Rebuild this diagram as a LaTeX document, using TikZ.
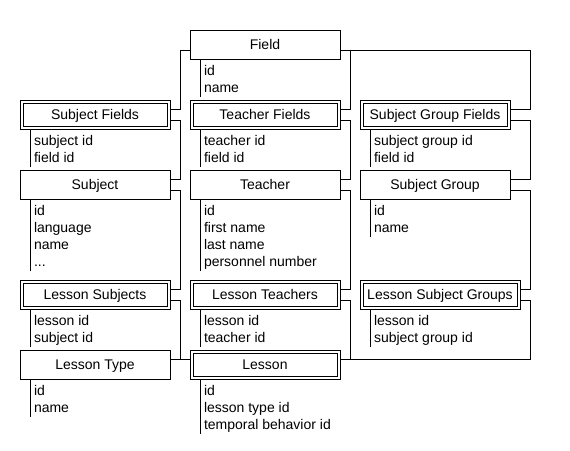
\documentclass[tikz,border=0pt]{standalone}
\usepackage{fontspec}
\setmainfont{Liberation Sans}
\newcommand\fsz{\fontsize{14pt}{17pt}\selectfont}
\newcommand\attrstrut{\rule[-4pt]{0pt}{17pt}}
\newcommand\conn[3]{\draw (#1) -- (#1 -| #3) -- (#2 -| #3) -- (#2);}
\begin{document}
\begin{tikzpicture}[x=1pt,y=-1pt,line width=0.9pt,
  ent/.style={draw, minimum width=150pt, minimum height=29.5pt, inner sep=0pt,
    outer sep=0pt, text height=10pt, text depth=0pt, font=\fsz},
  rel/.style={ent, path picture={\draw
    ([shift={(3pt,3pt)}]path picture bounding box.south west) rectangle
    ([shift={(-3pt,-3pt)}]path picture bounding box.north east);}},
  attr/.style={anchor=north west, inner xsep=4pt, inner ysep=3pt, align=left,
    font=\fsz, outer sep=0pt}]
\useasboundingbox (0,0) rectangle (570,450);
% entities and relations
\node[ent] (field) at (265,44.75) {Field};
\node[rel] (sf)    at (95,114.75)  {Subject Fields};
\node[rel] (tf)    at (265,114.75) {Teacher Fields};
\node[rel] (sgf)   at (435,114.75) {Subject Group Fields};
\node[ent] (subj)  at (95,184.75)  {Subject};
\node[ent] (teach) at (265,184.75) {Teacher};
\node[ent] (sg)    at (435,184.75) {Subject Group};
\node[rel] (ls)    at (95,294.75)  {Lesson Subjects};
\node[rel] (lt)    at (265,294.75) {Lesson Teachers};
\node[rel, minimum width=160pt] (lsg) at (440,294.75) {Lesson Subject Groups};
\node[ent] (ltype) at (95,364.75)  {Lesson Type};
\node[rel] (lesson) at (265,364.75) {Lesson};
% attributes
\node[attr] (fa)     at ([xshift=10pt]field.south west) {id\attrstrut\\name\attrstrut};
\node[attr] (sfa)    at ([xshift=10pt]sf.south west) {subject id\attrstrut\\field id\attrstrut};
\node[attr] (tfa)    at ([xshift=10pt]tf.south west) {teacher id\attrstrut\\field id\attrstrut};
\node[attr] (sgfa)   at ([xshift=10pt]sgf.south west) {subject group id\attrstrut\\field id\attrstrut};
\node[attr] (subja)  at ([xshift=10pt]subj.south west) {id\attrstrut\\language\attrstrut\\name\attrstrut\\...\attrstrut};
\node[attr] (teacha) at ([xshift=10pt]teach.south west) {id\attrstrut\\first name\attrstrut\\last name\attrstrut\\personnel number\attrstrut};
\node[attr] (sga)    at ([xshift=10pt]sg.south west) {id\attrstrut\\name\attrstrut};
\node[attr] (lsa)    at ([xshift=10pt]ls.south west) {lesson id\attrstrut\\subject id\attrstrut};
\node[attr] (lta)    at ([xshift=10pt]lt.south west) {lesson id\attrstrut\\teacher id\attrstrut};
\node[attr] (lsga)   at ([xshift=10pt]lsg.south west) {lesson id\attrstrut\\subject group id\attrstrut};
\node[attr] (ltypea) at ([xshift=10pt]ltype.south west) {id\attrstrut\\name\attrstrut};
\node[attr] (lessona) at ([xshift=10pt]lesson.south west) {id\attrstrut\\lesson type id\attrstrut\\temporal behavior id\attrstrut};
\foreach \a in {fa,sfa,tfa,sgfa,subja,teacha,sga,lsa,lta,lsga,ltypea,lessona}
  \draw (\a.north west) -- ([yshift=3pt]\a.south west);
% channels
\coordinate (chL) at (180,0);
\coordinate (chM) at (350,0);
\coordinate (chR) at (530.5,0);
% attachment points
\coordinate (field-wl) at ([yshift=-5.5pt]field.west);
\coordinate (field-el) at ([yshift=-5.5pt]field.east);
\foreach \n in {sf,tf,sgf,subj,teach,sg,ls,lt,lsg}{
  \coordinate (\n-eu) at ([yshift=5pt]\n.east);
  \coordinate (\n-el) at ([yshift=-5.5pt]\n.east);
}
\coordinate (ltype-eu) at ([yshift=5pt]ltype.east);
\coordinate (lesson-wu) at ([yshift=5pt]lesson.west);
\coordinate (lesson-eu) at ([yshift=5pt]lesson.east);
% connectors
\conn{field-wl}{sf-eu}{chL}
\conn{sf-el}{subj-eu}{chL}
\conn{subj-el}{ls-eu}{chL}
\conn{ls-el}{lesson-wu}{chL}
\draw (ltype-eu) -- (lesson-wu);
\conn{field-el}{tf-eu}{chM}
\conn{tf-el}{teach-eu}{chM}
\conn{teach-el}{lt-eu}{chM}
\conn{lt-el}{lesson-eu}{chM}
\conn{field-el}{sgf-eu}{chR}
\conn{sgf-el}{sg-eu}{chR}
\conn{sg-el}{lsg-eu}{chR}
\conn{lsg-el}{lesson-eu}{chR}
\end{tikzpicture}
\end{document}
